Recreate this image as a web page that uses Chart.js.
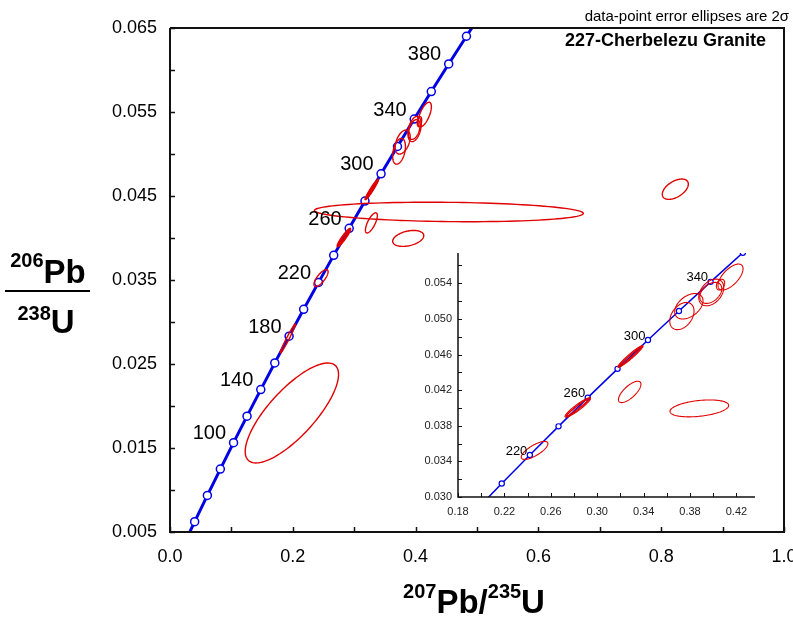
<!DOCTYPE html>
<html>
<head>
<meta charset="utf-8">
<script src="https://cdn.jsdelivr.net/npm/chart.js@4.4.1/dist/chart.umd.min.js"></script>
<style>
  html, body { margin: 0; padding: 0; background: #fff; }
  #wrap { position: relative; width: 793px; height: 618px; overflow: hidden; }
  #inset { position: absolute; left: 400px; top: 240px; }
</style>
</head>
<body>
<div id="wrap">
  <canvas id="main" width="793" height="618"></canvas>
  <canvas id="inset" width="393" height="290"></canvas>
</div>
<script>
// concordia points (Ma) and their ratios
const ages  = [20, 40, 60, 80, 100, 120, 140, 160, 180, 200, 220, 240, 260, 280, 300, 320, 340, 360, 380, 400, 420];
const concX = [0.019892, 0.040180, 0.060872, 0.081975, 0.103497, 0.125449, 0.147837, 0.170670, 0.193957, 0.217707,
               0.241930, 0.266635, 0.291831, 0.317529, 0.343738, 0.370467, 0.397728, 0.425532, 0.453889, 0.482810, 0.512306];
const concY = [0.003107, 0.006224, 0.009351, 0.012487, 0.015633, 0.018789, 0.021955, 0.025131, 0.028316, 0.031511,
               0.034717, 0.037932, 0.041157, 0.044392, 0.047637, 0.050893, 0.054158, 0.057434, 0.060720, 0.064016, 0.067322];
const mainAgeLabels  = [100, 140, 180, 220, 260, 300, 340, 380];
const insetAgeLabels = [220, 260, 300, 340];

// data-point error ellipses (2 sigma): centre, half-widths, error correlation
const ellX   = [0.1985, 0.4542, 0.192, 0.246, 0.2832, 0.2828, 0.2835, 0.3287, 0.329, 0.3282, 0.328, 0.388, 0.373, 0.379, 0.3983, 0.3979, 0.4063, 0.4149, 0.823];
const ellY   = [0.01917, 0.0431, 0.02804, 0.03523, 0.04005, 0.0400, 0.0401, 0.04579, 0.0458, 0.04575, 0.0418, 0.03995, 0.05032, 0.05142, 0.05297, 0.05292, 0.05385, 0.0547, 0.04581];
const ellSX  = [0.076, 0.219, 0.0123, 0.0115, 0.011, 0.0095, 0.0102, 0.0108, 0.0098, 0.0103, 0.0097, 0.0253, 0.01045, 0.0122, 0.0108, 0.0095, 0.0036, 0.0108, 0.0212];
const ellSY  = [0.00595, 0.00116, 0.00173, 0.00101, 0.00109, 0.00098, 0.00104, 0.00122, 0.0011, 0.00116, 0.0012, 0.00095, 0.00153, 0.00143, 0.0015, 0.00118, 0.0006, 0.00146, 0.00121];
const ellRho = [0.77, -0.15, 0.98, 0.75, 0.93, 0.96, 0.985, 0.96, 0.985, 0.99, 0.72, 0.35, 0.37, 0.43, 0.37, 0.4, 0.3, 0.64, 0.5];
const ellInInset = [0, 0, 1, 1, 1, 1, 1, 1, 1, 1, 1, 1, 1, 1, 1, 1, 1, 1, 0];

// ticks
const mainXTicks  = [0, 0.1, 0.2, 0.3, 0.4, 0.5, 0.6, 0.7, 0.8, 0.9, 1.0];
const mainXLabels = ['0.0', '', '0.2', '', '0.4', '', '0.6', '', '0.8', '', '1.0'];
const mainYTicks  = [0.005, 0.010, 0.015, 0.020, 0.025, 0.030, 0.035, 0.040, 0.045, 0.050, 0.055, 0.060, 0.065];
const mainYLabels = ['0.005', '', '0.015', '', '0.025', '', '0.035', '', '0.045', '', '0.055', '', '0.065'];
const insXTicks   = [0.18, 0.20, 0.22, 0.24, 0.26, 0.28, 0.30, 0.32, 0.34, 0.36, 0.38, 0.40, 0.42];
const insXLabels  = ['0.18', '', '0.22', '', '0.26', '', '0.30', '', '0.34', '', '0.38', '', '0.42'];
const insYTicks   = [0.030, 0.032, 0.034, 0.036, 0.038, 0.040, 0.042, 0.044, 0.046, 0.048, 0.050, 0.052, 0.054, 0.056];
const insYLabels  = ['0.030', '', '0.034', '', '0.038', '', '0.042', '', '0.046', '', '0.050', '', '0.054', ''];

const ff = '"Liberation Sans", Arial, Helvetica, sans-serif';
Chart.defaults.font.family = ff;
Chart.defaults.color = '#000';

const BLUE = '#0000e6', RED = '#e00000';

function lockBox(w, h) {
  return (s) => {
    if (w != null) s.width = w;
    if (h != null) s.height = h;
    s.paddingLeft = s.paddingRight = s.paddingTop = s.paddingBottom = 0;
  };
}
const useTicks = (vals) => (s) => { s.ticks = vals.map(v => ({ value: v })); };

const concPlugin = {
  id: 'conc',
  afterDatasetsDraw(chart, args, o) {
    const { ctx, chartArea: a, scales: { x, y } } = chart;
    ctx.save();
    ctx.beginPath();
    ctx.rect(a.left, a.top, a.right - a.left, a.bottom - a.top);
    ctx.clip();
    ctx.strokeStyle = RED;
    ctx.lineWidth = o.ellW;
    ellX.forEach((cx, i) => {
      if (o.inset && !ellInInset[i]) return;
      const r = ellRho[i], q = Math.sqrt(1 - r * r);
      ctx.beginPath();
      for (let k = 0; k <= 120; k++) {
        const t = k / 120 * 2 * Math.PI;
        const px = x.getPixelForValue(cx + ellSX[i] * Math.cos(t));
        const py = y.getPixelForValue(ellY[i] + ellSY[i] * (r * Math.cos(t) + q * Math.sin(t)));
        if (k) ctx.lineTo(px, py); else ctx.moveTo(px, py);
      }
      ctx.closePath();
      ctx.stroke();
    });
    ctx.restore();
  },
  afterDraw(chart, args, o) {
    const { ctx, chartArea: a, scales: { x, y } } = chart;
    ctx.save();
    // axes
    ctx.strokeStyle = '#111';
    ctx.lineWidth = o.axisW;
    ctx.beginPath();
    ctx.moveTo(a.left, a.top); ctx.lineTo(a.left, a.bottom); ctx.lineTo(a.right, a.bottom);
    if (o.box) { ctx.lineTo(a.right, a.top); ctx.lineTo(a.left, a.top); }
    ctx.stroke();
    // inward ticks
    ctx.lineWidth = o.tickW;
    ctx.beginPath();
    x.ticks.forEach(t => {
      const px = Math.round(x.getPixelForValue(t.value)) + 0.5;
      ctx.moveTo(px, a.bottom); ctx.lineTo(px, a.bottom - o.tickLen);
    });
    y.ticks.forEach(t => {
      const py = Math.round(y.getPixelForValue(t.value)) + 0.5;
      ctx.moveTo(a.left, py); ctx.lineTo(a.left + o.tickLen, py);
    });
    ctx.stroke();
    // age labels
    ctx.fillStyle = '#000';
    ctx.font = o.labelFont;
    ctx.textAlign = 'right';
    ctx.textBaseline = 'middle';
    o.labels.forEach(age => {
      const i = ages.indexOf(age);
      ctx.fillText(String(age), x.getPixelForValue(concX[i]) - o.dx, y.getPixelForValue(concY[i]) - o.dy);
    });
    ctx.restore();
  }
};

function rich(ctx, cx, parts) {
  let w = 0;
  parts.forEach(p => { ctx.font = p[1]; w += ctx.measureText(p[0]).width; });
  let xx = cx - w / 2;
  ctx.textAlign = 'left';
  ctx.textBaseline = 'alphabetic';
  parts.forEach(p => { ctx.font = p[1]; ctx.fillText(p[0], xx, p[2]); xx += ctx.measureText(p[0]).width; });
}

const titlePlugin = {
  id: 'titles',
  afterDraw(chart) {
    const ctx = chart.ctx;
    const sup = 'bold 20px ' + ff, big = 'bold 33px ' + ff;
    ctx.save();
    ctx.fillStyle = '#000';
    // y-axis title as a fraction
    rich(ctx, 48, [['206', sup, 267], ['Pb', big, 283]]);
    ctx.fillRect(5, 290, 85, 2);
    rich(ctx, 46, [['238', sup, 320], ['U', big, 333]]);
    // x-axis title
    rich(ctx, 474, [['207', sup, 598], ['Pb', big, 613], ['/', big, 613], ['235', sup, 598], ['U', big, 613]]);
    // notes
    ctx.textAlign = 'right';
    ctx.font = '15px ' + ff;
    ctx.fillText('data-point error ellipses are 2\u03c3', 789, 21);
    ctx.font = 'bold 18px ' + ff;
    ctx.fillText('227-Cherbelezu Granite', 766, 46);
    ctx.restore();
  }
};

const concData = ages.map((t, i) => ({ x: concX[i], y: concY[i] }));

new Chart(document.getElementById('main'), {
  type: 'scatter',
  data: {
    datasets: [{
      data: concData,
      showLine: true,
      borderColor: BLUE,
      borderWidth: 3,
      pointRadius: 4,
      pointBorderWidth: 1.5,
      pointBackgroundColor: '#fff',
      pointBorderColor: BLUE
    }]
  },
  options: {
    responsive: false,
    animation: false,
    devicePixelRatio: 1,
    layout: { padding: { left: 0, top: 28, right: 9, bottom: 0 } },
    plugins: {
      legend: { display: false },
      tooltip: { enabled: false },
      conc: { ellW: 1.4, axisW: 2, tickW: 1.5, tickLen: 5, box: true, labels: mainAgeLabels, labelFont: '20px ' + ff, dx: 7.5, dy: 9 }
    },
    scales: {
      x: {
        type: 'linear', min: 0, max: 1,
        afterBuildTicks: useTicks(mainXTicks),
        afterFit: lockBox(null, 86),
        grid: { display: false, drawTicks: false }, border: { display: false },
        ticks: { autoSkip: false, maxRotation: 0, padding: 14, font: { size: 18 }, color: '#000', callback: (v, i) => mainXLabels[i] }
      },
      y: {
        type: 'linear', min: 0.005, max: 0.065,
        afterBuildTicks: useTicks(mainYTicks),
        afterFit: lockBox(170, null),
        grid: { display: false, drawTicks: false }, border: { display: false },
        ticks: { autoSkip: false, padding: 13, font: { size: 18 }, color: '#000', callback: (v, i) => mainYLabels[i] }
      }
    }
  },
  plugins: [concPlugin, titlePlugin]
});

new Chart(document.getElementById('inset'), {
  type: 'scatter',
  data: {
    datasets: [{
      data: concData,
      showLine: true,
      borderColor: BLUE,
      borderWidth: 1.5,
      pointRadius: 2.6,
      pointBorderWidth: 1.2,
      pointBackgroundColor: '#fff',
      pointBorderColor: BLUE
    }]
  },
  options: {
    responsive: false,
    animation: false,
    devicePixelRatio: 1,
    layout: { padding: { left: 0, top: 13, right: 38, bottom: 0 } },
    plugins: {
      legend: { display: false },
      tooltip: { enabled: false },
      conc: { ellW: 1.1, axisW: 1.5, tickW: 1, tickLen: 4, box: false, inset: true, labels: insetAgeLabels, labelFont: '13px ' + ff, dx: 2.5, dy: 4 }
    },
    scales: {
      x: {
        type: 'linear', min: 0.18, max: 0.436,
        afterBuildTicks: useTicks(insXTicks),
        afterFit: lockBox(null, 33),
        grid: { display: false, drawTicks: false }, border: { display: false },
        ticks: { autoSkip: false, maxRotation: 0, padding: 8, font: { size: 11 }, color: '#222', callback: (v, i) => insXLabels[i] }
      },
      y: {
        type: 'linear', min: 0.030, max: 0.0574,
        afterBuildTicks: useTicks(insYTicks),
        afterFit: lockBox(58, null),
        grid: { display: false, drawTicks: false }, border: { display: false },
        ticks: { autoSkip: false, padding: 6, font: { size: 11 }, color: '#222', callback: (v, i) => insYLabels[i] }
      }
    }
  },
  plugins: [concPlugin]
});
</script>
</body>
</html>
